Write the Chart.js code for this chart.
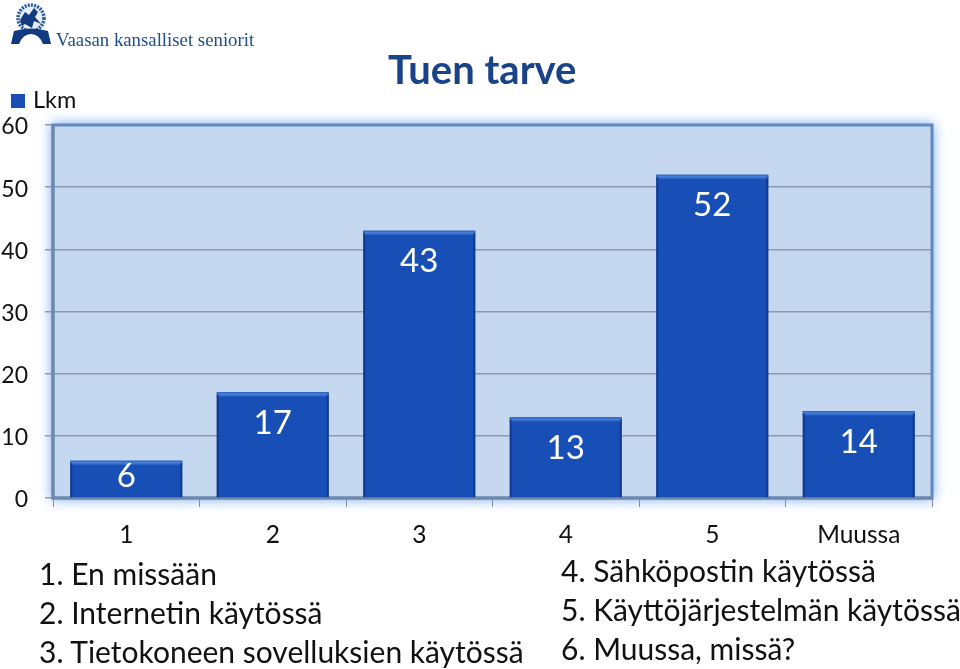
<!DOCTYPE html>
<html>
<head>
<meta charset="utf-8">
<script src="https://cdn.jsdelivr.net/npm/chart.js@4"></script>
<style>
  body { margin: 0; background: #fff; }
  #wrap { position: relative; width: 960px; height: 669px; overflow: hidden; }
  canvas { position: absolute; left: 0; top: 0; }
  .txt { position: absolute; white-space: nowrap; font-family: Lato, sans-serif; color: #111; }
  #brand { left: 56px; top: 29px; font: 18.8px "Liberation Serif", serif; color: #1f4e8c; }
  #title { left: 388px; top: 45px; font-size: 40px; font-weight: 700; color: #1a4287; }
  .cap { font-size: 30px; }
  #logo { position: absolute; left: 10px; top: 3px; }
</style>
</head>
<body>
<div id="wrap">
  <canvas id="chart1" width="960" height="669"></canvas>
  <svg id="logo" width="42" height="42" viewBox="0 0 42 42">
    <circle cx="21" cy="15" r="13" fill="#e6edf6" stroke="#2a5a9c" stroke-width="3.5" stroke-dasharray="2 1.2"/>
    <path d="M10 17 L15 9 L19 12 L24 5 L28 9 L25 14 L31 21 L24 18 L22 25 L15 21 L12 23 Z" fill="#123a80"/>
    <path d="M1 41 L4 28 Q21 23 38 28 L41 41 L33 41 Q29 31 21 31 Q13 31 9 41 Z" fill="#123a80"/>
  </svg>
  <div class="txt" id="brand">Vaasan kansalliset seniorit</div>
  <div class="txt" id="title">Tuen tarve</div>
</div>
<script>
// Dữ liệu của biểu đồ
const categories = ['1', '2', '3', '4', '5', 'Muussa'];
const seriesName = 'Lkm';
const values = [6, 17, 43, 13, 52, 14];
const yTicks = [0, 10, 20, 30, 40, 50, 60];
const leftNotes = ['1. En missään', '2. Internetin käytössä', '3. Tietokoneen sovelluksien käytössä'];
const rightNotes = ['4. Sähköpostin käytössä', '5. Käyttöjärjestelmän käytössä', '6. Muussa, missä?'];

// Chú thích phía dưới biểu đồ
const wrap = document.getElementById('wrap');
function addNotes(list, left, tops) {
  list.forEach((t, i) => {
    const d = document.createElement('div');
    d.className = 'txt cap';
    d.style.left = left + 'px';
    d.style.top = tops[i] + 'px';
    d.textContent = t;
    wrap.appendChild(d);
  });
}
addNotes(leftNotes, 39, [555, 594, 633]);
addNotes(rightNotes, 561, [552, 591, 630]);

// Nền vùng vẽ, khung, viền phát sáng và chú giải
const plotFrame = {
  id: 'plotFrame',
  beforeDraw(chart) {
    const { ctx, chartArea: a } = chart;
    // Đẩy nhãn trục y xuống 2px cho khớp với hình gốc
    chart.scales.y.getLabelItems().forEach(item => { item.options.translation[1] += 2; });

    ctx.save();
    ctx.shadowColor = 'rgba(90,150,240,0.9)';
    ctx.shadowBlur = 12;
    ctx.fillStyle = '#c6d8ef';
    ctx.fillRect(a.left - 1, a.top - 1, a.width + 2, a.height + 2);
    ctx.restore();

    ctx.save();
    ctx.fillStyle = '#174fb7';
    ctx.fillRect(11, 94, 14, 14);
    ctx.fillStyle = '#111';
    ctx.font = '23.5px Lato, sans-serif';
    ctx.textBaseline = 'middle';
    ctx.fillText(seriesName, 33, 100);
    ctx.restore();
  },
  beforeDatasetsDraw(chart) {
    const { ctx, chartArea: a } = chart;
    ctx.save();
    ctx.strokeStyle = '#5f89bf';
    ctx.lineWidth = 3;
    ctx.strokeRect(a.left, a.top, a.width, a.height);
    ctx.strokeStyle = '#6f88aa';
    ctx.beginPath();
    ctx.moveTo(a.left, a.top);
    ctx.lineTo(a.left, a.bottom);
    ctx.lineTo(a.right, a.bottom);
    ctx.stroke();
    ctx.restore();
  }
};

// Hiệu ứng nổi của cột và nhãn giá trị
const barLabels = {
  id: 'barLabels',
  afterDatasetsDraw(chart) {
    const { ctx } = chart;
    const meta = chart.getDatasetMeta(0);
    ctx.save();
    meta.data.forEach((bar, i) => {
      const left = bar.x - bar.width / 2;
      const h = bar.base - bar.y;
      const top = ctx.createLinearGradient(0, bar.y, 0, bar.y + 5);
      top.addColorStop(0, '#2a5fb8');
      top.addColorStop(0.4, '#4a82dc');
      top.addColorStop(1, '#174fb7');
      ctx.fillStyle = top;
      ctx.fillRect(left, bar.y, bar.width, 5);
      ctx.fillStyle = 'rgba(10,40,110,0.55)';
      ctx.fillRect(left, bar.y + 2, 2, h - 2);
      ctx.fillRect(left + bar.width - 2, bar.y + 2, 2, h - 2);
      ctx.fillStyle = '#fff';
      ctx.font = '33px Lato, sans-serif';
      ctx.textAlign = 'center';
      ctx.textBaseline = 'middle';
      ctx.fillText(values[i], bar.x, bar.y + Math.min(31, h / 2 - 3));
    });
    ctx.restore();
  }
};

new Chart(document.getElementById('chart1').getContext('2d'), {
  type: 'bar',
  data: {
    labels: categories,
    datasets: [{
      label: seriesName,
      data: values,
      backgroundColor: '#174fb7',
      borderWidth: 0,
      categoryPercentage: 0.765,
      barPercentage: 1
    }]
  },
  options: {
    responsive: false,
    animation: false,
    layout: { padding: { top: 125, right: 28, left: 0, bottom: 0 } },
    plugins: {
      tooltip: { enabled: false },
      legend: { display: false }
    },
    scales: {
      x: {
        afterFit: s => { s.height = 171; },
        border: { display: false },
        grid: { offset: true, drawOnChartArea: false, drawTicks: true, tickLength: 9, color: '#7e8fa8', lineWidth: 1 },
        ticks: { color: '#111', padding: 13, font: { family: 'Lato, sans-serif', size: 24.5 }, maxRotation: 0 }
      },
      y: {
        min: 0,
        max: 60,
        afterFit: s => { s.width = 53; },
        afterBuildTicks: s => { s.ticks = yTicks.map(v => ({ value: v })); },
        border: { display: false },
        grid: { color: '#8b9ab3', lineWidth: 1.5, tickLength: 8 },
        ticks: { color: '#111', padding: 17, font: { family: 'Lato, sans-serif', size: 23 } }
      }
    }
  },
  plugins: [plotFrame, barLabels]
});
</script>
</body>
</html>
